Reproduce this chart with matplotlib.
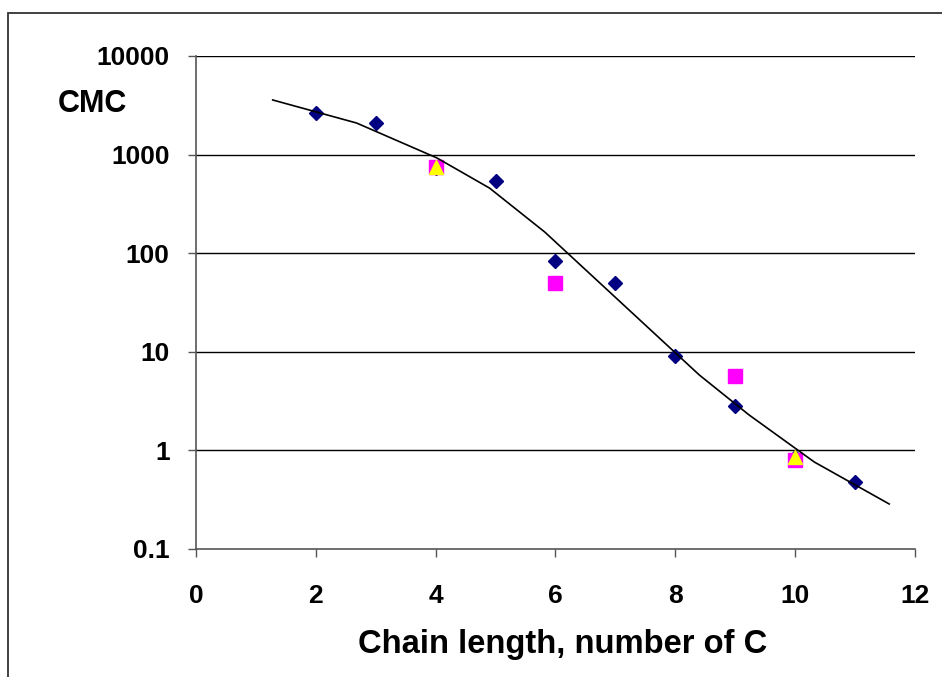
import matplotlib.pyplot as plt
import matplotlib.patches as patches
from matplotlib.ticker import FixedLocator, FixedFormatter, NullLocator

plt.rcParams['font.family'] = ['Liberation Sans', 'DejaVu Sans']
plt.rcParams['font.weight'] = 'bold'

# measured CMC values
x_diamond = [2, 3, 4, 5, 6, 7, 8, 9, 10, 11]
y_diamond = [2630, 2090, 730, 540, 83, 50, 9.1, 2.8, 0.85, 0.48]

x_square = [4, 6, 9, 10]
y_square = [757, 50, 5.7, 0.80]

x_tri = [4, 10]
y_tri = [750, 0.86]

# fitted curve
x_fit = [1.28, 2.68, 4.02, 4.9, 5.82, 8.4, 9.23, 10.32, 11.57]
y_fit = [3580, 2090, 925, 457, 164, 5.82, 2.29, 0.762, 0.286]

yticks = [0.1, 1, 10, 100, 1000, 10000]
ylabels = ['0.1', '1', '10', '100', '1000', '10000']
xticks = [0, 2, 4, 6, 8, 10, 12]

fig = plt.figure(figsize=(9.42, 6.77), dpi=100)
ax = fig.add_axes([0.2081, 0.1891, 0.9713 - 0.2081, 0.9173 - 0.1891])

# outer frame
fig.patches.append(patches.Rectangle((8 / 942, -0.1), 1.2, 1 - 13 / 677 + 0.1,
                                     transform=fig.transFigure, fill=False,
                                     edgecolor='#333333', linewidth=1.3))

ax.set_yscale('log')
ax.set_ylim(0.1, 10000)
ax.set_xlim(0, 12)

for y in yticks[1:]:
    ax.axhline(y, color='black', linewidth=1, zorder=1)

ax.plot(x_diamond, y_diamond, linestyle='none', marker='D', ms=7.4,
        color='#000080', zorder=3)
ax.plot(x_square, y_square, linestyle='none', marker='s', ms=10.5,
        color='#ff00ff', zorder=4)
ax.plot(x_tri, y_tri, linestyle='none', marker='^', ms=10.5,
        color='#ffff00', zorder=5)
ax.plot(x_fit, y_fit, color='black', linewidth=1.2, zorder=6)

ax.yaxis.set_major_locator(FixedLocator(yticks))
ax.yaxis.set_major_formatter(FixedFormatter(ylabels))
ax.yaxis.set_minor_locator(NullLocator())
ax.set_xticks(xticks)
ax.set_xticklabels([str(v) for v in xticks])

for s in ['top', 'right']:
    ax.spines[s].set_visible(False)
for s in ['left', 'bottom']:
    ax.spines[s].set_color('#555555')
    ax.spines[s].set_linewidth(1.2)

ax.tick_params(axis='both', direction='out', length=6, width=1, color='#555555',
               labelsize=19)
ax.tick_params(axis='y', pad=13)
ax.tick_params(axis='x', pad=19)

ax.set_xlabel('Chain length, number of C', fontsize=23.6, fontweight='bold')
ax.xaxis.set_label_coords(0.51, -0.163)
fig.text(92 / 942, 1 - 104 / 677, 'CMC', fontsize=22, fontweight='bold',
         ha='center', va='center')

fig.savefig('out.png', dpi=100)
